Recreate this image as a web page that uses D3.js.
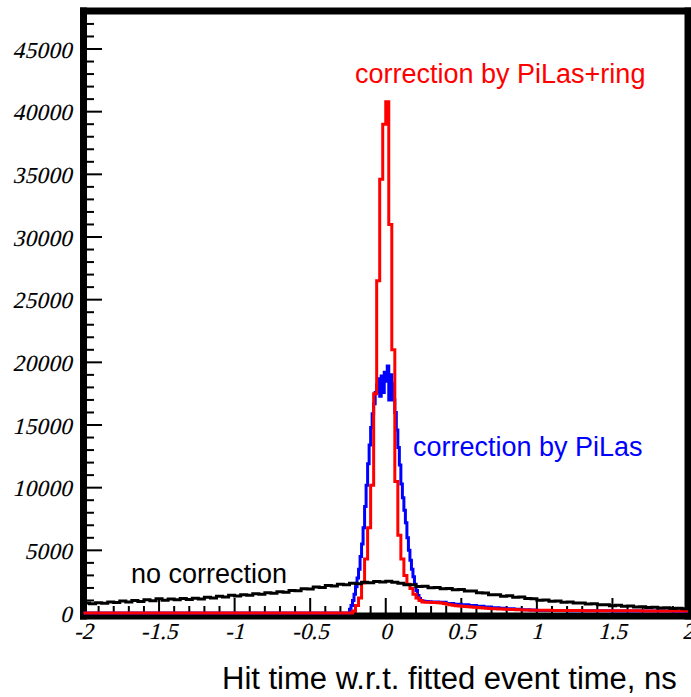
<!DOCTYPE html>
<html>
<head>
<meta charset="utf-8">
<script src="https://cdn.jsdelivr.net/npm/d3@7"></script>
<style>
  html, body { margin: 0; padding: 0; background: #fff; }
  svg { display: block; }
</style>
</head>
<body>
<svg id="chart" width="691" height="697"></svg>
<script>
// ---- Axis ticks ----
const xTickValues = [-2, -1.5, -1, -0.5, 0, 0.5, 1, 1.5, 2];
const xTickLabels = ["-2", "-1.5", "-1", "-0.5", "0", "0.5", "1", "1.5", "2"];
const yTickValues = [0, 5000, 10000, 15000, 20000, 25000, 30000, 35000, 40000, 45000];
const yTickLabels = ["0", "5000", "10000", "15000", "20000", "25000", "30000", "35000", "40000", "45000"];

// ---- No correction: bins of 0.04 ns from -2 to 2 ----
const blackStart = -2;
const blackBinWidth = 0.04;
const blackCounts = [
  790, 740, 820, 770, 880, 830, 950, 870, 990, 920,
  1060, 980, 1130, 1020, 1110, 1050, 1160, 1080, 1170, 1120,
  1250, 1200, 1330, 1270, 1420, 1350, 1460, 1410, 1540, 1490,
  1620, 1580, 1700, 1660, 1800, 1770, 1930, 1910, 2070, 2040,
  2190, 2160, 2300, 2250, 2380, 2330, 2450, 2410, 2520, 2480,
  2530, 2450, 2380, 2250, 2260, 2120, 2140, 2020, 2040, 1930,
  1960, 1850, 1870, 1750, 1760, 1620, 1600, 1460, 1450, 1340,
  1370, 1260, 1280, 1150, 1130, 1020, 1040, 930, 950, 860,
  880, 790, 800, 710, 730, 650, 660, 580, 610, 540,
  560, 480, 500, 440, 460, 400, 420, 360, 370, 330
];

// ---- Correction by PiLas ----
const blueLeadStart = -2, blueLeadWidth = 0.1;
const blueLeadCounts = [0, 0, 0, 0, 0, 0, 0, 0, 0, 0, 0, 0, 0, 0, 0, 0, 0];
const blueCoreStart = -0.3, blueCoreWidth = 0.01;
const blueCoreCounts = [
  0, 0, 0, 0, 0, 0, 300, 600, 1000, 1500,
  2100, 2800, 3500, 4500, 5500, 6800, 8500, 10200, 11900, 13400,
  14800, 15900, 16700, 17600, 18200, 18700, 17300, 18900, 17600, 19200,
  18500, 19700, 17000, 19000, 18300, 17000, 16000, 14600, 13200, 11800,
  10300, 9200, 8200, 7200, 6000, 5000, 4200, 3500, 2900, 2300,
  1800, 1400, 1150, 1000, 950, 930, 920, 910, 900, 890
];
const blueMidStart = 0.3, blueMidWidth = 0.05;
const blueMidCounts = [880, 850, 760, 700, 650, 600, 540, 480, 420, 380, 330, 290, 250, 230];
const blueTailStart = 1.0, blueTailWidth = 0.1;
const blueTailCounts = [200, 190, 180, 175, 170, 165, 160, 155, 150, 145];

// ---- Correction by PiLas+ring ----
const redLeadStart = -2, redLeadWidth = 0.1;
const redLeadCounts = [0, 0, 0, 0, 0, 0, 0, 0, 0, 0, 0, 0, 0, 0, 0, 0, 0];
const redCoreStart = -0.3, redCoreWidth = 0.02;
const redCoreCounts = [
  0, 0, 0, 0, 150, 600, 1200, 2400, 4300, 6800,
  10200, 17500, 26500, 34600, 39000, 40800, 31000, 21000, 10500, 6200,
  4300, 3000, 2300, 1950, 1500, 1200, 1000, 880, 860, 850,
  840, 830, 820, 800, 760, 700, 650, 610, 580, 560,
  540, 520, 500, 480, 460, 440, 420, 400, 380, 360,
  340, 330, 320, 310, 300, 290, 280, 270, 260, 250,
  240, 235, 230, 225, 220
];
const redTailStart = 1.0, redTailWidth = 0.1;
const redTailCounts = [210, 200, 190, 185, 180, 175, 170, 165, 160, 155];

// ---- Labels ----
const xTitle = "Hit time w.r.t. fitted event time, ns";
const seriesLabels = ["no correction", "correction by PiLas", "correction by PiLas+ring"];
const seriesColors = ["#000000", "#0000ff", "#ff0000"];

// ---- Layout ----
const svg = d3.select("#chart");
const x = d3.scaleLinear().domain([-2, 2]).range([83.5, 688]);
const y = d3.scaleLinear().domain([0, 48000]).range([613, 11.4]);

// turn a list of {start, width, counts} segments into histogram step vertices
function histSteps(segments) {
  const pts = [];
  segments.forEach(seg => {
    seg.counts.forEach((c, i) => {
      const lo = seg.start + i * seg.width;
      const hi = seg.start + (i + 1) * seg.width;
      pts.push([lo, c], [hi, c]);
    });
  });
  return pts;
}

const blackHist = histSteps([{ start: blackStart, width: blackBinWidth, counts: blackCounts }]);
const blueHist = histSteps([
  { start: blueLeadStart, width: blueLeadWidth, counts: blueLeadCounts },
  { start: blueCoreStart, width: blueCoreWidth, counts: blueCoreCounts },
  { start: blueMidStart, width: blueMidWidth, counts: blueMidCounts },
  { start: blueTailStart, width: blueTailWidth, counts: blueTailCounts }
]);
const redHist = histSteps([
  { start: redLeadStart, width: redLeadWidth, counts: redLeadCounts },
  { start: redCoreStart, width: redCoreWidth, counts: redCoreCounts },
  { start: redTailStart, width: redTailWidth, counts: redTailCounts }
]);

// ---- Frame ----
const frame = svg.append("g").attr("stroke", "#000").attr("stroke-linecap", "square");
frame.append("line").attr("x1", 83.5).attr("x2", 83.5).attr("y1", 11).attr("y2", 616).attr("stroke-width", 7);
frame.append("line").attr("x1", 83.5).attr("x2", 688).attr("y1", 11).attr("y2", 11).attr("stroke-width", 7);
frame.append("line").attr("x1", 688).attr("x2", 688).attr("y1", 11).attr("y2", 616).attr("stroke-width", 7);
frame.append("line").attr("x1", 83.5).attr("x2", 688).attr("y1", 616).attr("y2", 616).attr("stroke-width", 7);

// ---- Ticks ----
const ticks = svg.append("g").attr("stroke", "#000").attr("stroke-width", 2);
d3.range(0, 48001, 1000).forEach(v => {
  const major = v % 5000 === 0;
  ticks.append("line")
    .attr("x1", 86).attr("x2", major ? 102 : 94)
    .attr("y1", y(v)).attr("y2", y(v));
});
d3.range(-20, 21).forEach(k => {
  const v = k / 10;
  const major = k % 5 === 0;
  ticks.append("line")
    .attr("x1", x(v)).attr("x2", x(v))
    .attr("y1", 613).attr("y2", major ? 598 : 606);
});

// ---- Tick labels (slanted serif numerals) ----
const tickFont = "'Liberation Serif', 'Times New Roman', serif";
svg.append("g").selectAll("text").data(yTickValues).join("text")
  .attr("transform", d => `translate(72,${y(d) + 8.5}) skewX(-14)`)
  .attr("text-anchor", "end")
  .attr("font-family", tickFont).attr("font-size", 23)
  .attr("letter-spacing", 0.4)
  .attr("fill", "#000").attr("stroke", "#000").attr("stroke-width", 0.15)
  .text((d, i) => yTickLabels[i]);

svg.append("g").selectAll("text").data(xTickValues).join("text")
  .attr("transform", d => `translate(${x(d)},639) skewX(-14)`)
  .attr("text-anchor", "middle")
  .attr("font-family", tickFont).attr("font-size", 23)
  .attr("fill", "#000").attr("stroke", "#000").attr("stroke-width", 0.15)
  .text((d, i) => xTickLabels[i]);

// ---- Histograms ----
const line = d3.line().x(d => x(d[0])).y(d => y(d[1]));
const curves = svg.append("g").attr("fill", "none").attr("stroke-linejoin", "miter");
curves.append("path").attr("d", line(blueHist)).attr("stroke", seriesColors[1]).attr("stroke-width", 3);
curves.append("path").attr("d", line(redHist)).attr("stroke", seriesColors[2]).attr("stroke-width", 3);
curves.append("path").attr("d", line(blackHist)).attr("stroke", seriesColors[0]).attr("stroke-width", 3);

// ---- Annotations ----
const sans = "'Liberation Sans', Arial, sans-serif";
svg.append("text").attr("x", 131).attr("y", 583)
  .attr("font-family", sans).attr("font-size", 27).attr("fill", seriesColors[0])
  .text(seriesLabels[0]);
svg.append("text").attr("x", 413).attr("y", 456)
  .attr("font-family", sans).attr("font-size", 27).attr("fill", seriesColors[1])
  .text(seriesLabels[1]);
svg.append("text").attr("x", 355).attr("y", 83)
  .attr("font-family", sans).attr("font-size", 27).attr("fill", seriesColors[2])
  .text(seriesLabels[2]);

// pointer bar with a soft shadow
const defs = svg.append("defs");
const f = defs.append("filter").attr("id", "barShadow").attr("x", "-5%").attr("y", "-200%").attr("width", "110%").attr("height", "500%");
f.append("feDropShadow").attr("dx", 1).attr("dy", 2).attr("stdDeviation", 1.2)
  .attr("flood-color", "#000").attr("flood-opacity", 0.3);
svg.append("line").attr("x1", 398).attr("x2", 694).attr("y1", 137).attr("y2", 137)
  .attr("stroke", "#c0504d").attr("stroke-width", 4.5).attr("filter", "url(#barShadow)");

// ---- Axis title ----
svg.append("text").attr("x", 222).attr("y", 689)
  .attr("font-family", sans).attr("font-size", 31).attr("fill", "#000")
  .text(xTitle);
</script>
</body>
</html>
